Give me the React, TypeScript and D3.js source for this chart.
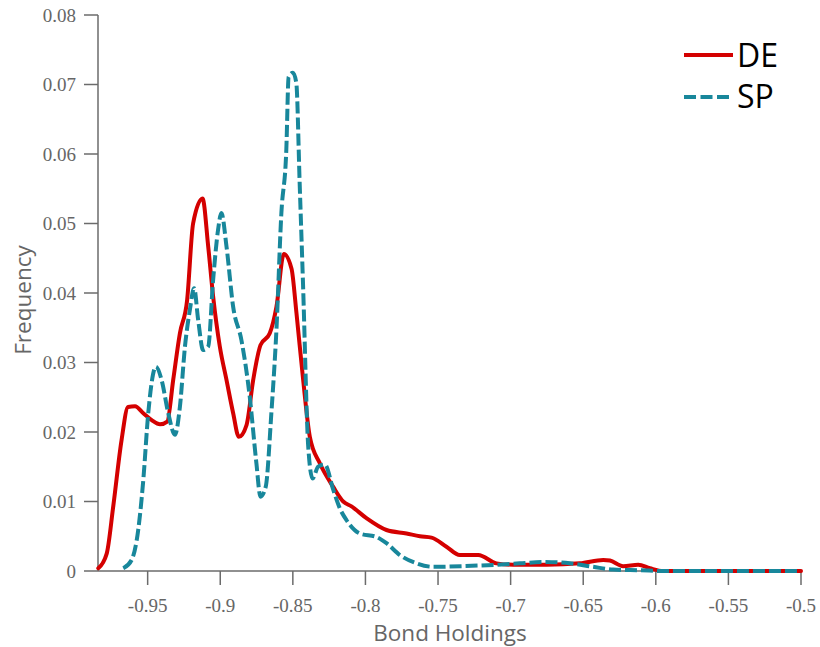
import React from "react";
import * as d3 from "d3";

const deX = [-0.984,-0.9782,-0.9737,-0.968,-0.9635,-0.9587,-0.953,-0.9472,-0.9415,-0.9365,-0.9324,-0.9278,-0.9228,-0.9187,-0.9122,-0.9083,-0.9049,-0.9003,-0.8957,-0.8911,-0.8872,-0.8819,-0.8773,-0.8723,-0.8659,-0.8613,-0.8562,-0.8509,-0.8475,-0.8429,-0.8383,-0.8314,-0.8222,-0.8153,-0.8096,-0.7993,-0.7855,-0.7717,-0.7625,-0.7545,-0.7442,-0.735,-0.7223,-0.7097,-0.6982,-0.6752,-0.6523,-0.6362,-0.6316,-0.6225,-0.6121,-0.6041,-0.595,-0.55,-0.5];
const deY = [0.0004,0.0025,0.0093,0.0188,0.0236,0.0237,0.0227,0.0217,0.0211,0.0215,0.0275,0.0342,0.039,0.05,0.0536,0.0467,0.0395,0.0323,0.0275,0.0227,0.0193,0.021,0.0275,0.0325,0.0342,0.038,0.0456,0.0435,0.0371,0.0275,0.0193,0.0155,0.0121,0.01,0.0093,0.0076,0.0059,0.0054,0.005,0.0048,0.0035,0.0023,0.0023,0.0011,0.0009,0.0009,0.0011,0.0016,0.0015,0.0007,0.0009,0.0004,0,0,0];

const spX = [-0.9668,-0.961,-0.9565,-0.953,-0.9496,-0.9443,-0.9404,-0.9358,-0.9312,-0.9278,-0.9243,-0.9209,-0.918,-0.9152,-0.9118,-0.9083,-0.9049,-0.9015,-0.8992,-0.8957,-0.8911,-0.8854,-0.8797,-0.8751,-0.8723,-0.8687,-0.8648,-0.8613,-0.8579,-0.8545,-0.8529,-0.8499,-0.8476,-0.8453,-0.843,-0.8394,-0.8364,-0.8326,-0.8279,-0.8222,-0.8176,-0.813,-0.8039,-0.7924,-0.7855,-0.7763,-0.7648,-0.7533,-0.7327,-0.7097,-0.6937,-0.6776,-0.6592,-0.6431,-0.6294,-0.61,-0.595,-0.55,-0.5];
const spY = [0.0004,0.0016,0.0059,0.0131,0.0227,0.0294,0.0275,0.0227,0.0196,0.0236,0.0323,0.0376,0.0407,0.0361,0.0318,0.0323,0.0419,0.0491,0.0515,0.0467,0.038,0.0332,0.0251,0.0155,0.0107,0.0121,0.0227,0.0347,0.0515,0.0606,0.0711,0.0717,0.0702,0.0558,0.0414,0.0179,0.0133,0.015,0.0153,0.0117,0.009,0.0073,0.0054,0.0049,0.004,0.0023,0.0011,0.0006,0.0007,0.0009,0.0011,0.0013,0.0011,0.0006,0.0002,0.0001,0,0,0];

const xTicks = [-0.95,-0.9,-0.85,-0.8,-0.75,-0.7,-0.65,-0.6,-0.55,-0.5];
const yTicks = [0,0.01,0.02,0.03,0.04,0.05,0.06,0.07,0.08];
const seriesNames = ["DE", "SP"];

const W = 820, H = 647;
const x = d3.scaleLinear().domain([-0.9842, -0.5]).range([98, 801]);
const y = d3.scaleLinear().domain([0, 0.08]).range([571, 15]);

export default function App() {
  const line = d3.line<[number, number]>().x(d => x(d[0])).y(d => y(d[1])).curve(d3.curveMonotoneX);
  const de = deX.map((v, i) => [v, deY[i]] as [number, number]);
  const sp = spX.map((v, i) => [v, spY[i]] as [number, number]);
  const axisColor = "#6b6b6b";
  const red = "#d40000";
  const teal = "#18879b";
  return (
    <div style={{ position: "absolute", left: 0, top: 0 }}>
      <svg width={W} height={H} style={{ display: "block", background: "#fff" }}>
        {/* axes */}
        <line x1={98} x2={98} y1={y(0.08)} y2={y(0)} stroke={axisColor} strokeWidth={1.5} />
        <line x1={98} x2={801} y1={y(0)} y2={y(0)} stroke={axisColor} strokeWidth={1.5} />
        {yTicks.map(t => (
          <g key={"y" + t}>
            <line x1={84} x2={98} y1={y(t)} y2={y(t)} stroke={axisColor} strokeWidth={1.5} />
            <text x={76} y={y(t)} dy="0.35em" textAnchor="end" fontFamily="Liberation Serif" fontSize={19} fill="#666">{String(t)}</text>
          </g>
        ))}
        {xTicks.map(t => (
          <g key={"x" + t}>
            <line x1={x(t)} x2={x(t)} y1={y(0)} y2={y(0) + 14} stroke={axisColor} strokeWidth={1.5} />
            <text x={x(t)} y={612} textAnchor="middle" fontFamily="Liberation Serif" fontSize={19} fill="#666">{String(t)}</text>
          </g>
        ))}
        <text x={450} y={641} textAnchor="middle" fontFamily="Open Sans" fontSize={22.5} fill="#666">Bond Holdings</text>
        <text transform="translate(31,300) rotate(-90)" textAnchor="middle" fontFamily="Open Sans" fontSize={22.5} fill="#666">Frequency</text>
        {/* lines */}
        <path d={line(de) || ""} fill="none" stroke={red} strokeWidth={4} strokeLinejoin="round" strokeLinecap="round" />
        <path d={line(sp) || ""} fill="none" stroke={teal} strokeWidth={4} strokeDasharray="12,4" strokeLinejoin="round" />
        {/* legend */}
        <line x1={684} x2={733} y1={55} y2={55} stroke={red} strokeWidth={4} />
        <text x={737} y={67} fontFamily="Open Sans" fontSize={32} fill="#000">{seriesNames[0]}</text>
        <line x1={684} x2={733} y1={97} y2={97} stroke={teal} strokeWidth={4} strokeDasharray="12,4.5" />
        <text x={737} y={108} fontFamily="Open Sans" fontSize={32} fill="#000">{seriesNames[1]}</text>
      </svg>
    </div>
  );
}
